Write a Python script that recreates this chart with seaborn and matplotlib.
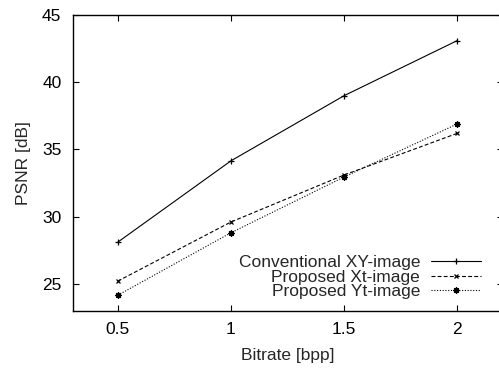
import matplotlib
matplotlib.use('Agg')
import matplotlib.pyplot as plt
import seaborn as sns

# values
bitrate = [0.5, 1.0, 1.5, 2.0]
psnr_xy = [28.1, 34.15, 39.0, 43.1]
psnr_xt = [25.2, 29.6, 33.1, 36.2]
psnr_yt = [24.15, 28.8, 32.95, 36.9]
labels = ['Conventional XY-image', 'Proposed Xt-image', 'Proposed Yt-image']
xticks = [0.5, 1, 1.5, 2]
xtick_labels = ['0.5', '1', '1.5', '2']
yticks = [25, 30, 35, 40, 45]

sns.set_style('ticks')
plt.rcParams['font.family'] = ['Liberation Sans', 'DejaVu Sans']
plt.rcParams['font.size'] = 12.5

fig = plt.figure(figsize=(4.99, 3.72), dpi=100)
ax = fig.add_axes([0.1453, 0.1648, 0.862, 0.7949])

# gnuplot-like styles: solid +, dashed x, dotted asterisk
styles = [
    dict(linestyle='-', marker='+', markersize=4.5),
    dict(linestyle=(0, (3.5, 2)), marker='x', markersize=3.5),
    dict(linestyle=(0, (1, 1.5)), marker=(8, 2, 0), markersize=4.5),
]
for vals, lab, st in zip([psnr_xy, psnr_xt, psnr_yt], labels, styles):
    sns.lineplot(x=bitrate, y=vals, ax=ax, label=lab, color='black',
                 linewidth=0.8, markeredgewidth=0.9, markeredgecolor='black',
                 **st)

ax.set_xlim(0.3, 2.2)
ax.set_ylim(23, 45)
ax.set_xticks(xticks)
ax.set_xticklabels(xtick_labels)
ax.set_yticks(yticks)
ax.set_xlabel('Bitrate [bpp]', labelpad=8)
ax.set_ylabel('PSNR [dB]', labelpad=8)

ax.tick_params(direction='in', length=4, width=0.8, top=True, right=True,
               labelsize=12.5, pad=8, colors='black')
for s in ax.spines.values():
    s.set_linewidth(1.0)
    s.set_color('black')

ax.legend(loc='lower right', bbox_to_anchor=(481 / 499, 1 - 299 / 372),
          bbox_transform=fig.transFigure, frameon=False, markerfirst=False,
          handlelength=2.9, handletextpad=0.6, labelspacing=-0.05,
          borderpad=0, borderaxespad=0, fontsize=12.5)

fig.savefig('out.png', dpi=100)
